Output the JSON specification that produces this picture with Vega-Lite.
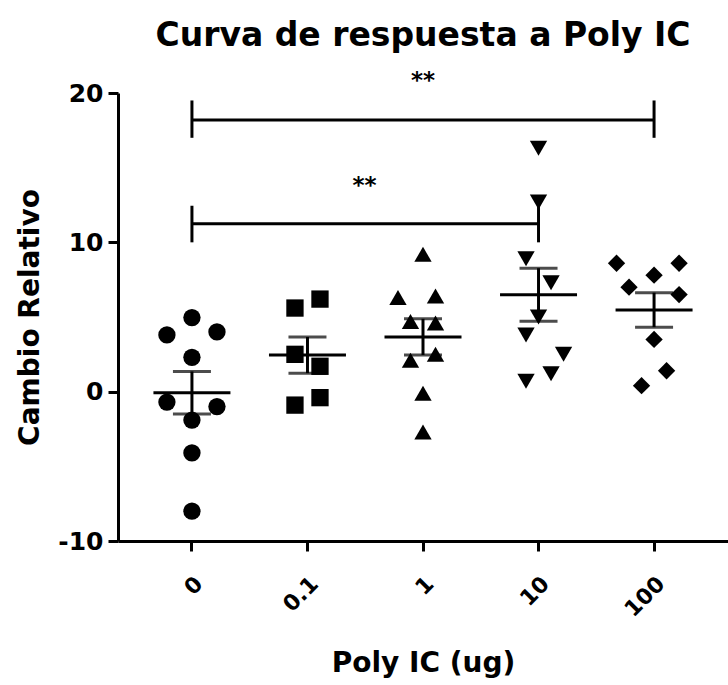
{
  "$schema": "https://vega.github.io/schema/vega-lite/v6.json",
  "width": 610,
  "height": 448,
  "autosize": {"type": "none"},
  "padding": {"left": 118, "top": 93, "right": 0, "bottom": 144},
  "background": "white",
  "config": {
    "view": {"stroke": null},
    "font": "DejaVu Sans",
    "axis": {"labelFont": "DejaVu Sans", "titleFont": "DejaVu Sans", "labelFontWeight": "bold", "titleFontWeight": "bold", "labelColor": "black", "titleColor": "black", "domainColor": "black", "tickColor": "black", "domainWidth": 3, "tickWidth": 3, "tickSize": 10, "grid": false}
  },
  "title": {"text": "Curva de respuesta a Poly IC", "fontSize": 33, "font": "DejaVu Sans", "fontWeight": "bold", "anchor": "middle", "frame": "group", "offset": 17, "color": "black"},
  "datasets": {
    "points": [
      {"dose": "0", "value": 4.96, "lane": 0},
      {"dose": "0", "value": 3.8, "lane": -2},
      {"dose": "0", "value": 4.0, "lane": 2},
      {"dose": "0", "value": 2.3, "lane": 0},
      {"dose": "0", "value": -0.7, "lane": -2},
      {"dose": "0", "value": -1.0, "lane": 2},
      {"dose": "0", "value": -1.9, "lane": 0},
      {"dose": "0", "value": -4.1, "lane": 0},
      {"dose": "0", "value": -8.0, "lane": 0},
      {"dose": "0.1", "value": 5.6, "lane": -1},
      {"dose": "0.1", "value": 6.2, "lane": 1},
      {"dose": "0.1", "value": 2.5, "lane": -1},
      {"dose": "0.1", "value": 1.7, "lane": 1},
      {"dose": "0.1", "value": -0.9, "lane": -1},
      {"dose": "0.1", "value": -0.4, "lane": 1},
      {"dose": "1", "value": 9.2, "lane": 0},
      {"dose": "1", "value": 6.3, "lane": -2},
      {"dose": "1", "value": 6.4, "lane": 1},
      {"dose": "1", "value": 4.7, "lane": -1},
      {"dose": "1", "value": 4.6, "lane": 1},
      {"dose": "1", "value": 2.1, "lane": -1},
      {"dose": "1", "value": 2.5, "lane": 1},
      {"dose": "1", "value": -0.1, "lane": 0},
      {"dose": "1", "value": -2.7, "lane": 0},
      {"dose": "10", "value": 16.3, "lane": 0},
      {"dose": "10", "value": 12.7, "lane": 0},
      {"dose": "10", "value": 8.9, "lane": -1},
      {"dose": "10", "value": 7.3, "lane": 1},
      {"dose": "10", "value": 5.0, "lane": 0},
      {"dose": "10", "value": 3.8, "lane": -1},
      {"dose": "10", "value": 2.5, "lane": 2},
      {"dose": "10", "value": 1.2, "lane": 1},
      {"dose": "10", "value": 0.7, "lane": -1},
      {"dose": "100", "value": 8.6, "lane": -3},
      {"dose": "100", "value": 8.6, "lane": 2},
      {"dose": "100", "value": 7.8, "lane": 0},
      {"dose": "100", "value": 7.0, "lane": -2},
      {"dose": "100", "value": 6.5, "lane": 2},
      {"dose": "100", "value": 3.5, "lane": 0},
      {"dose": "100", "value": 1.4, "lane": 1},
      {"dose": "100", "value": 0.4, "lane": -1}
    ],
    "brackets": [
      {"id": 1, "from": "0", "to": "100", "y": 18.2, "lo": 17.0, "hi": 19.5, "mid": "1", "label": "**", "ly": 20.8},
      {"id": 2, "from": "0", "to": "10", "y": 11.25, "lo": 10.0, "hi": 12.45, "mid": "0.1", "label": "**", "ly": 13.8}
    ]
  },
  "encoding": {
    "x": {"field": "dose", "type": "nominal",
      "scale": {"type": "band", "domain": ["0", "0.1", "1", "10", "100"], "paddingInner": 0.242, "paddingOuter": 0.261},
      "axis": {"title": "Poly IC (ug)", "titleFontSize": 28, "titlePadding": 29, "labelAngle": -45, "labelFontSize": 22, "labelPadding": 22}},
    "y": {"field": "value", "type": "quantitative",
      "scale": {"domain": [-10, 20], "nice": false, "zero": false},
      "axis": {"title": "Cambio Relativo", "titleFontSize": 28, "titlePadding": 13, "values": [-10, 0, 10, 20], "labelExpr": "'' + datum.value", "labelFontSize": 25, "labelPadding": 5}}
  },
  "layer": [
    {
      "mark": {"type": "rule", "color": "black", "strokeWidth": 3, "strokeDash": [3, 9.6]},
      "encoding": {"x": null, "y": {"datum": 0}}
    },
    {
      "data": {"name": "points"},
      "mark": {"type": "point", "filled": true, "color": "black", "opacity": 1, "size": 300},
      "encoding": {
        "xOffset": {"field": "lane", "type": "ordinal", "scale": {"domain": [-3, -2, -1, 0, 1, 2, 3]}},
        "shape": {"field": "dose", "type": "nominal", "legend": null,
          "scale": {"domain": ["0", "0.1", "1", "10", "100"], "range": ["circle", "square", "triangle-up", "triangle-down", "diamond"]}}
      }
    },
    {
      "data": {"name": "points"},
      "mark": {"type": "errorbar", "extent": "stderr", "ticks": true, "size": 38, "thickness": 3, "color": "black"}
    },
    {
      "data": {"name": "points"},
      "mark": {"type": "tick", "size": 77, "thickness": 3, "color": "black"},
      "encoding": {"y": {"field": "value", "type": "quantitative", "aggregate": "mean"}}
    },
    {
      "data": {"name": "brackets"},
      "mark": {"type": "rule", "color": "black", "strokeWidth": 3},
      "encoding": {"x": {"field": "from", "type": "nominal"}, "x2": {"field": "to"}, "y": {"field": "y", "type": "quantitative"}}
    },
    {
      "data": {"name": "brackets"},
      "mark": {"type": "rule", "color": "black", "strokeWidth": 3},
      "encoding": {"x": {"field": "from", "type": "nominal"}, "y": {"field": "lo", "type": "quantitative"}, "y2": {"field": "hi"}}
    },
    {
      "data": {"name": "brackets"},
      "mark": {"type": "rule", "color": "black", "strokeWidth": 3},
      "encoding": {"x": {"field": "to", "type": "nominal"}, "y": {"field": "lo", "type": "quantitative"}, "y2": {"field": "hi"}}
    },
    {
      "data": {"name": "brackets"},
      "transform": [{"filter": "datum.id == 1"}],
      "mark": {"type": "text", "font": "DejaVu Sans", "fontWeight": "bold", "fontSize": 23, "color": "black", "baseline": "middle"},
      "encoding": {"x": {"field": "mid", "type": "nominal"}, "y": {"field": "ly", "type": "quantitative"}, "text": {"field": "label"}}
    },
    {
      "data": {"name": "brackets"},
      "transform": [{"filter": "datum.id == 2"}],
      "mark": {"type": "text", "font": "DejaVu Sans", "fontWeight": "bold", "fontSize": 23, "color": "black", "baseline": "middle", "dx": 57},
      "encoding": {"x": {"field": "mid", "type": "nominal"}, "y": {"field": "ly", "type": "quantitative"}, "text": {"field": "label"}}
    }
  ]
}
